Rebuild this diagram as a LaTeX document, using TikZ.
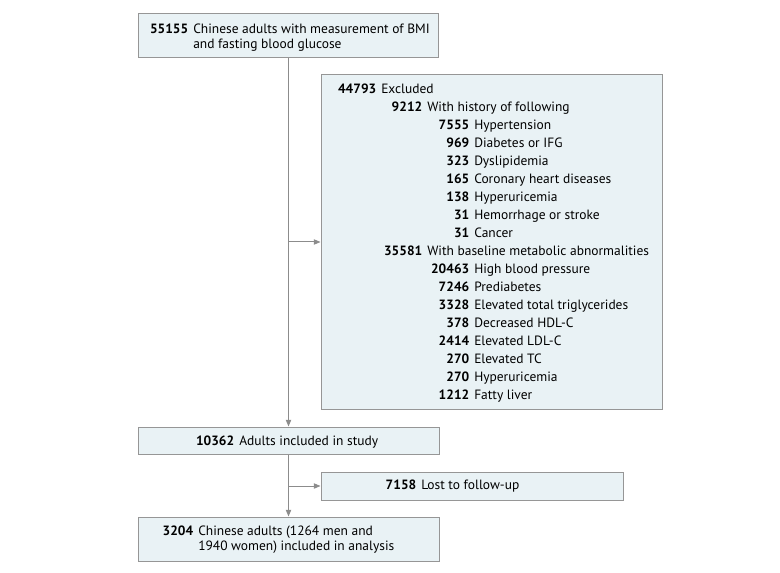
\documentclass[tikz,border=0pt]{standalone}
\usepackage{fontspec}
\setmainfont{PT Sans}
\usetikzlibrary{arrows.meta}
\definecolor{boxfill}{RGB}{233,242,245}
\definecolor{boxline}{RGB}{150,150,150}
\definecolor{conn}{RGB}{140,140,140}
\newcommand\rowtxt[2]{\llap{\textbf{#1}\hspace{3.75pt}}#2}
\tikzset{
  box/.style={draw=boxline, fill=boxfill, line width=0.75pt, inner sep=0pt},
  txt/.style={anchor=mid west, inner sep=0pt, font=\fontsize{10.1pt}{12pt}\selectfont},
  arr/.style={draw=conn, line width=0.75pt, -{Triangle[length=5pt,width=4pt]}},
  ln/.style={draw=conn, line width=0.75pt}
}
\begin{document}
\begin{tikzpicture}[x=0.75pt,y=-0.75pt]
\useasboundingbox (0,0) rectangle (780,573);
% boxes
\node[box, minimum width=300*0.75pt, minimum height=44*0.75pt] (b1) at (288.5,36) {};
\node[box, minimum width=341*0.75pt, minimum height=334*0.75pt] (ex) at (491.5,242) {};
\node[box, minimum width=301*0.75pt, minimum height=27*0.75pt] (b2) at (288.5,440.5) {};
\node[box, minimum width=302*0.75pt, minimum height=28*0.75pt] (lost) at (472,486) {};
\node[box, minimum width=301*0.75pt, minimum height=44*0.75pt] (b3) at (288.5,539) {};
% connectors
\draw[arr] (b1.south -| b2.north) -- (b2.north);
\draw[arr] (ex.west -| b2.north) -- (ex.west);
\draw[arr] (b2.south) -- (b3.north);
\draw[arr] (lost.west -| b2.south) -- (lost.west);
% box 1 text
\node[txt] (t1a) at (193,30) {\rowtxt{55155}{Chinese adults with measurement of BMI}};
\node[txt] (t1b) at (193,45) {and fasting blood glucose};
% excluded text
\node[txt] (e0) at (381,90) {\rowtxt{44793}{Excluded}};
\node[txt] (e1) at (427,108) {\rowtxt{9212}{With history of following}};
\node[txt] (e2) at (474,126) {\rowtxt{7555}{Hypertension}};
\node[txt] (e3) at (474,144) {\rowtxt{969}{Diabetes or IFG}};
\node[txt] (e4) at (474,162) {\rowtxt{323}{Dyslipidemia}};
\node[txt] (e5) at (474,180) {\rowtxt{165}{Coronary heart diseases}};
\node[txt] (e6) at (474,198) {\rowtxt{138}{Hyperuricemia}};
\node[txt] (e7) at (474,216) {\rowtxt{31}{Hemorrhage or stroke}};
\node[txt] (e8) at (474,234) {\rowtxt{31}{Cancer}};
\node[txt] (e9) at (427,252) {\rowtxt{35581}{With baseline metabolic abnormalities}};
\node[txt] (e10) at (474,270) {\rowtxt{20463}{High blood pressure}};
\node[txt] (e11) at (474,288) {\rowtxt{7246}{Prediabetes}};
\node[txt] (e12) at (474,306) {\rowtxt{3328}{Elevated total triglycerides}};
\node[txt] (e13) at (474,324) {\rowtxt{378}{Decreased HDL-C}};
\node[txt] (e14) at (474,342) {\rowtxt{2414}{Elevated LDL-C}};
\node[txt] (e15) at (474,360) {\rowtxt{270}{Elevated TC}};
\node[txt] (e16) at (474,378) {\rowtxt{270}{Hyperuricemia}};
\node[txt] (e17) at (474,396) {\rowtxt{1212}{Fatty liver}};
% other boxes text
\node[txt] (t2) at (239,442) {\rowtxt{10362}{Adults included in study}};
\node[txt] (t3) at (421,486) {\rowtxt{7158}{Lost to follow-up}};
\node[txt] (t4a) at (198,532) {\rowtxt{3204}{Chinese adults (1264 men and}};
\node[txt] (t4b) at (198,547) {1940 women) included in analysis};
\end{tikzpicture}
\end{document}
